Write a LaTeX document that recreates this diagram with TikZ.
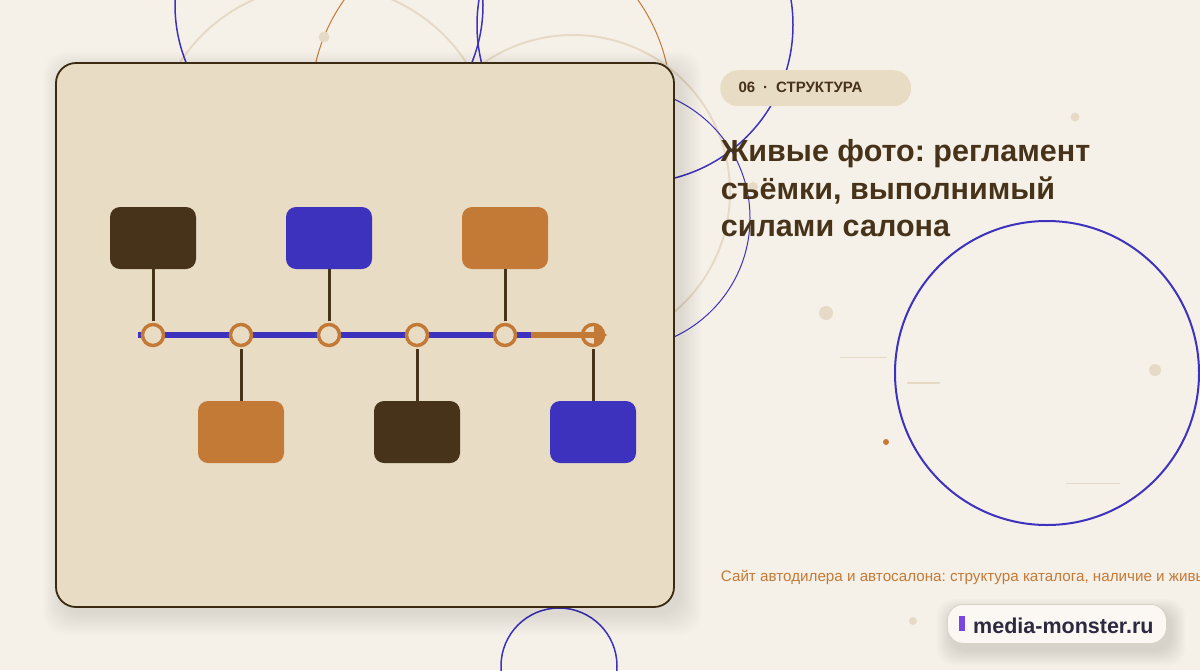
\documentclass[tikz,border=0pt]{standalone}
\usepackage{fontspec}
\setmainfont{Liberation Sans}
\usetikzlibrary{arrows.meta}
\definecolor{bgc}{HTML}{F6F1E8}
\definecolor{cardc}{HTML}{E8DCC5}
\definecolor{edgec}{HTML}{3A2A12}
\definecolor{brownc}{HTML}{46331A}
\definecolor{bluec}{HTML}{3D32BE}
\definecolor{orangec}{HTML}{C47A37}
\definecolor{beigec}{HTML}{E6DAC6}
\definecolor{badgefill}{HTML}{FBF8F3}
\definecolor{badgeedge}{HTML}{D8D1C6}
\definecolor{badgetext}{HTML}{2C2940}
\definecolor{purplec}{HTML}{7A45E0}
\begin{document}
\frenchspacing
\begin{tikzpicture}[x=1pt,y=-1pt,
  box/.style={rounded corners=10pt, minimum width=86pt, minimum height=62pt, inner sep=0pt},
  stem/.style={draw=brownc, line width=3pt, shorten >=1.75pt},
  stopnode/.style={circle, draw=orangec, line width=3.5pt, fill=cardc, minimum size=21pt, inner sep=0pt},
  ring/.style={draw=bluec, line width=1.5pt},
  deco/.style={draw=beigec, line width=2pt},
  dot/.style={fill=beigec},
  titleline/.style={anchor=base west, inner sep=0pt, text=brownc, font=\bfseries\fontsize{30.5}{36}\selectfont},
]
\useasboundingbox (0,0) rectangle (1200,670);
\fill[bgc] (0,0) rectangle (1200,670);
\begin{scope}
\clip (0,0) rectangle (1200,670);
% decorative circles
\draw[deco] (323,156) circle[radius=171pt];
\draw[orangec, line width=1pt] (491,104) circle[radius=180pt];
\draw[deco] (573,192) circle[radius=157pt];
\draw[ring] (329,5) circle[radius=154pt];
\draw[ring] (635,25) circle[radius=158pt];
\draw[bluec, line width=1pt] (619,218) circle[radius=131pt];
\draw[bluec, line width=2pt] (1047,373) circle[radius=152pt];
\draw[ring] (559,666) circle[radius=58pt];
% dots and dashes
\fill[dot] (324,37) circle[radius=5.5pt];
\fill[dot] (1075,117) circle[radius=4.5pt];
\fill[dot] (753,187) circle[radius=5pt];
\fill[dot] (826,313) circle[radius=7pt];
\fill[dot] (1155,370) circle[radius=6pt];
\fill[dot] (913,621) circle[radius=4pt];
\fill[orangec] (886,442) circle[radius=3pt];
\draw[beigec, line width=1pt] (840,357) -- (887,357);
\draw[beigec, line width=2pt] (907,383) -- (940,383);
\draw[beigec, line width=1pt] (1066,483) -- (1120,483);
% card shadow
\foreach \k in {0,...,11} {
  \fill[black, opacity=0.006, rounded corners=22pt] ({60-\k*1.5},{68-\k*1.5}) rectangle ({682+\k*1.8},{615+\k*1.8});
}
\node[draw=edgec, line width=1.8pt, fill=cardc, rounded corners=20pt, minimum width=618pt, minimum height=544pt, inner sep=0pt] (card) at (365,335) {};
% timeline
\coordinate (tlstart) at (138,335);
\coordinate (tlmid) at (531,335);
\coordinate (tlend) at (607,335);
\draw[bluec, line width=6pt] (tlstart) -- (tlmid);
\node[stopnode] (s1) at (153,335) {};
\node[stopnode] (s2) at (241,335) {};
\node[stopnode] (s3) at (329,335) {};
\node[stopnode] (s4) at (417,335) {};
\node[stopnode] (s5) at (505,335) {};
\node[stopnode] (s6) at (593,335) {};
\draw[orangec, line width=6pt, -{Triangle[length=13pt,width=20pt]}] (tlmid) -- (tlend);
% boxes
\node[box, fill=brownc] (b1) at (153,238) {};
\node[box, fill=bluec] (b3) at (329,238) {};
\node[box, fill=orangec] (b5) at (505,238) {};
\node[box, fill=orangec] (b2) at (241,432) {};
\node[box, fill=brownc] (b4) at (417,432) {};
\node[box, fill=bluec] (b6) at (593,432) {};
\draw[stem] (b1.south) -- (s1.north);
\draw[stem] (b3.south) -- (s3.north);
\draw[stem] (b5.south) -- (s5.north);
\draw[stem] (b2.north) -- (s2.south);
\draw[stem] (b4.north) -- (s4.south);
\draw[stem] (b6.north) -- (s6.south);
% tag
\node[fill=cardc, rounded corners=18pt, minimum width=191pt, minimum height=36pt, inner sep=0pt, anchor=north west] (tag) at (720,70) {};
\node[anchor=base west, inner sep=0pt, text=brownc, font=\bfseries\fontsize{15}{18}\selectfont] (tagtext) at (738.3,92.3) {06\hspace{8pt}·\hspace{8pt}СТРУКТУРА};
% title
\node[titleline] (title1) at (720.7,161.7) {Живые фото: регламент};
\node[titleline] (title2) at (720.7,199.3) {съёмки, выполнимый};
\node[titleline] (title3) at (720.7,236.5) {силами салона};
% footer
\node[anchor=base west, inner sep=0pt, text=orangec, font=\fontsize{15.2}{18}\selectfont] (footer) at (720.7,581.7) {Сайт автодилера и автосалона: структура каталога, наличие и живые фото};
% badge
\foreach \k in {0,...,9} {
  \fill[black, opacity=0.01, rounded corners=18pt] ({950-\k*1.5},{610-\k*1.2}) rectangle ({1172+\k*1.5},{652+\k*1.5});
}
\node[fill=badgefill, draw=badgeedge, line width=0.8pt, rounded corners=16pt, minimum width=219pt, minimum height=39pt, inner sep=0pt, anchor=north west] (badge) at (947,604) {};
\fill[purplec] (959,616) rectangle (965,631);
\node[anchor=base west, inner sep=0pt, text=badgetext, font=\bfseries\fontsize{21.5}{24}\selectfont] (badgetext) at (973,633) {media-monster.ru};
\end{scope}
\end{tikzpicture}
\end{document}
